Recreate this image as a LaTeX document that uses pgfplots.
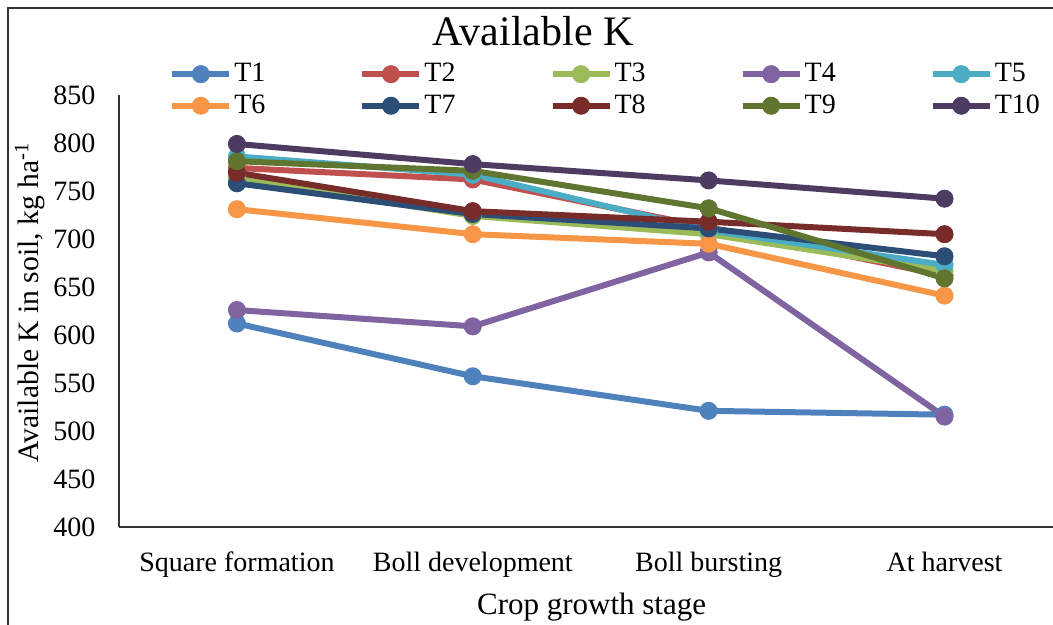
\documentclass[border=0pt]{standalone}
\usepackage{pgfplots}
\pgfplotsset{compat=1.18}
\usepackage{pgfplotstable}
\usepackage{fontspec}
\setmainfont{Liberation Serif}

\definecolor{c1}{HTML}{4F81BD}
\definecolor{c2}{HTML}{C0504D}
\definecolor{c3}{HTML}{9BBB59}
\definecolor{c4}{HTML}{8064A2}
\definecolor{c5}{HTML}{4BACC6}
\definecolor{c6}{HTML}{F79646}
\definecolor{c7}{HTML}{2C4D75}
\definecolor{c8}{HTML}{772C2A}
\definecolor{c9}{HTML}{5F7530}
\definecolor{c10}{HTML}{4D3B62}

% Available K (kg/ha) per treatment at each crop growth stage
\pgfplotstableread{
stage T1  T2  T3  T4  T5  T6  T7  T8  T9  T10
0     612 774 763 626 786 731 758 769 781 799
1     557 762 724 609 767 705 726 729 771 778
2     521 712 705 686 709 695 711 718 732 761
3     517 662 667 515 673 641 682 705 659 742
}\soilK

\pgfplotsset{
  kline/.style={color=#1, line width=3pt, mark=*, mark size=4.3pt,
    mark options={solid, fill=#1, draw=#1, line width=0.4pt}},
}

\begin{document}
\begin{tikzpicture}
\useasboundingbox (0,0) rectangle (526.5pt,312.5pt);
\draw[line width=1pt, black!80] (4pt,0) -- (4pt,308.5pt) -- (526.5pt,308.5pt);
\node[font=\fontsize{21}{24}\selectfont] at (266.5pt,297pt) {Available K};
\begin{axis}[
  at={(59.5pt,49pt)}, anchor=south west,
  scale only axis, width=467pt, height=216pt,
  xmin=-0.5, xmax=3.46, ymin=400, ymax=850,
  ytick={400,450,...,850},
  xtick={0,1,2,3},
  xticklabels={Square formation, Boll development, Boll bursting, At harvest},
  axis x line*=bottom, axis y line*=left,
  axis line style={-, black!80, line width=0.8pt},
  major tick length=0pt,
  tick label style={font=\fontsize{14}{16}\selectfont},
  /pgf/number format/assume math mode=true,
  yticklabel style={xshift=-8.3pt},
  xticklabel style={yshift=-9pt},
  xlabel={Crop growth stage},
  xlabel style={font=\fontsize{15.5}{18}\selectfont, at={(axis description cs:0.506,0)}, anchor=center, yshift=-40pt},
  ylabel={Available K in soil, kg ha\textsuperscript{-1}},
  ylabel style={font=\fontsize{14.8}{17}\selectfont, at={(axis description cs:-0.0953,0.52)}, anchor=center},
  clip=false,
  legend columns=5,
  legend style={at={(axis description cs:0.0535,1.0116)}, anchor=west, draw=none, fill=none,
    inner sep=0pt, row sep=3pt, font=\fontsize{14}{16}\selectfont,
    nodes={inner sep=1pt},
    /tikz/every even column/.append style={column sep=46pt}},
  legend cell align=left,
  legend image code/.code={
    \draw[mark repeat=2, mark phase=2] plot coordinates {(0pt,0pt) (14.25pt,0pt) (28.5pt,0pt)};
  },
]
\addplot[kline=c1]  table[x=stage, y=T1]  {\soilK};
\addplot[kline=c2]  table[x=stage, y=T2]  {\soilK};
\addplot[kline=c3]  table[x=stage, y=T3]  {\soilK};
\addplot[kline=c4]  table[x=stage, y=T4]  {\soilK};
\addplot[kline=c5]  table[x=stage, y=T5]  {\soilK};
\addplot[kline=c6]  table[x=stage, y=T6]  {\soilK};
\addplot[kline=c7]  table[x=stage, y=T7]  {\soilK};
\addplot[kline=c8]  table[x=stage, y=T8]  {\soilK};
\addplot[kline=c9]  table[x=stage, y=T9]  {\soilK};
\addplot[kline=c10] table[x=stage, y=T10] {\soilK};
\legend{T1,T2,T3,T4,T5,T6,T7,T8,T9,T10}
\end{axis}
\end{tikzpicture}
\end{document}
